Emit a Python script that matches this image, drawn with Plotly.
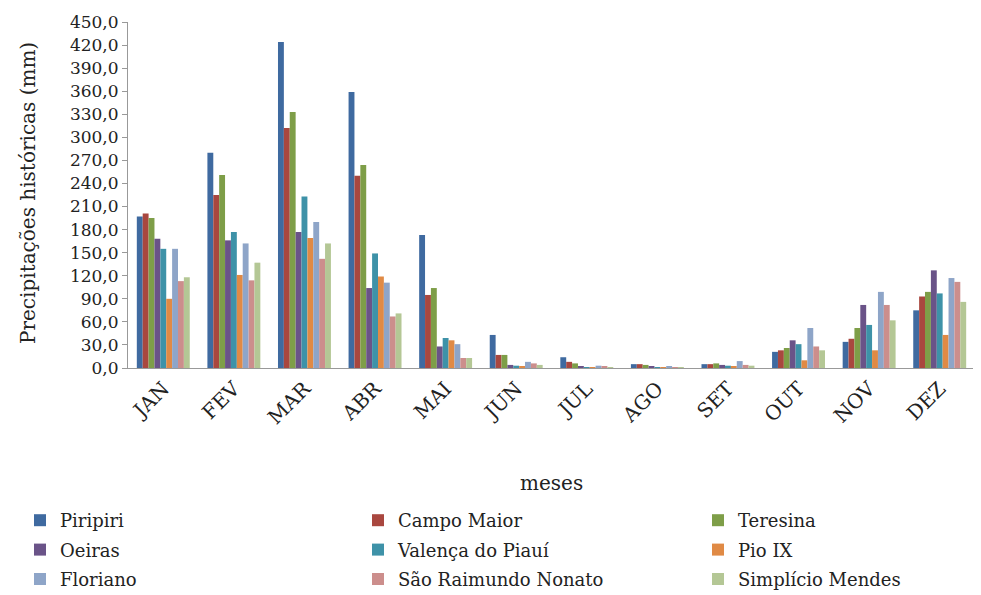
import plotly.graph_objects as go

months = ["JAN", "FEV", "MAR", "ABR", "MAI", "JUN", "JUL", "AGO", "SET", "OUT", "NOV", "DEZ"]

piripiri = [197, 280, 424, 359, 173, 43, 14, 5, 5, 21, 34, 75]
campo_maior = [201, 225, 312, 250, 95, 17, 8, 5, 5, 23, 38, 93]
teresina = [195, 251, 333, 264, 104, 17, 6, 4, 6, 26, 52, 99]
oeiras = [168, 166, 177, 104, 28, 4, 2, 2, 4, 36, 82, 127]
valenca = [155, 177, 223, 149, 39, 3, 1, 1, 3, 31, 56, 97]
pio_ix = [90, 121, 169, 119, 36, 2, 1, 0.5, 2, 10, 23, 43]
floriano = [155, 162, 190, 111, 31, 8, 3, 2, 9, 52, 99, 117]
sao_raimundo = [113, 114, 142, 67, 13, 6, 2, 1, 4, 28, 82, 112]
simplicio = [118, 137, 162, 71, 13, 4, 1, 1, 3, 23, 62, 86]

series_names = ["Piripiri", "Campo Maior", "Teresina", "Oeiras", "Valença do Piauí",
                "Pio IX", "Floriano", "São Raimundo Nonato", "Simplício Mendes"]
series_values = [piripiri, campo_maior, teresina, oeiras, valenca,
                 pio_ix, floriano, sao_raimundo, simplicio]
colors = ["#3F6AA0", "#A9473F", "#7E9E48", "#6A5388", "#3E92A8",
          "#E08A45", "#8EA5C8", "#CC8E8C", "#B4C795"]
legend_ids = ["legend", "legend2", "legend3"]

y_ticks = list(range(0, 451, 30))

FONT = "DejaVu Serif"

fig = go.Figure()
for i, (name, vals, col) in enumerate(zip(series_names, series_values, colors)):
    fig.add_trace(go.Bar(x=months, y=vals, name=name,
                         legend=legend_ids[i % 3], legendgroup=name,
                         marker=dict(color=col, line=dict(width=0))))

def make_legend(xpx):
    return dict(orientation="v", x=xpx / 981, xref="container", xanchor="left",
                y=(595 - 494) / 595, yref="container", yanchor="top",
                traceorder="grouped", tracegroupgap=3,
                font=dict(family=FONT, size=18, color="#222"),
                itemwidth=30, bgcolor="rgba(0,0,0,0)")

fig.update_layout(
    width=981, height=595,
    paper_bgcolor="white", plot_bgcolor="white",
    margin=dict(l=120, r=14, t=14, b=235, autoexpand=False),
    barmode="group", bargap=0.25, bargroupgap=0,
    separators=",.",
    font=dict(family=FONT, size=17, color="#222"),
    showlegend=True,
    legend=make_legend(12),
    legend2=make_legend(350),
    legend3=make_legend(690),
    xaxis=dict(showline=True, linecolor="#999", linewidth=1, ticks="",
               tickangle=-45, tickfont=dict(family=FONT, size=20),
               automargin=False, showgrid=False),
    yaxis=dict(range=[0, 450], tickvals=y_ticks, tickformat=".1f",
               ticksuffix="\u00a0\u00a0\u00a0",
               showline=True, linecolor="#999", linewidth=1,
               ticks="outside", ticklen=5, tickcolor="#999",
               showgrid=False, zeroline=False, automargin=False,
               tickfont=dict(family=FONT, size=17)),
    annotations=[
        dict(text="meses", x=0.5, xref="paper", y=(360 - 475) / 346, yref="paper",
             xanchor="center", yanchor="middle",
             showarrow=False, font=dict(family=FONT, size=20, color="#222")),
        dict(text="Precipitações históricas (mm)", textangle=-90,
             x=(20 - 120) / 847, xref="paper", y=(360 - 185) / 346, yref="paper",
             xanchor="center", yanchor="middle",
             showarrow=False, font=dict(family=FONT, size=20, color="#222")),
    ],
)

fig.write_html("out.html")
